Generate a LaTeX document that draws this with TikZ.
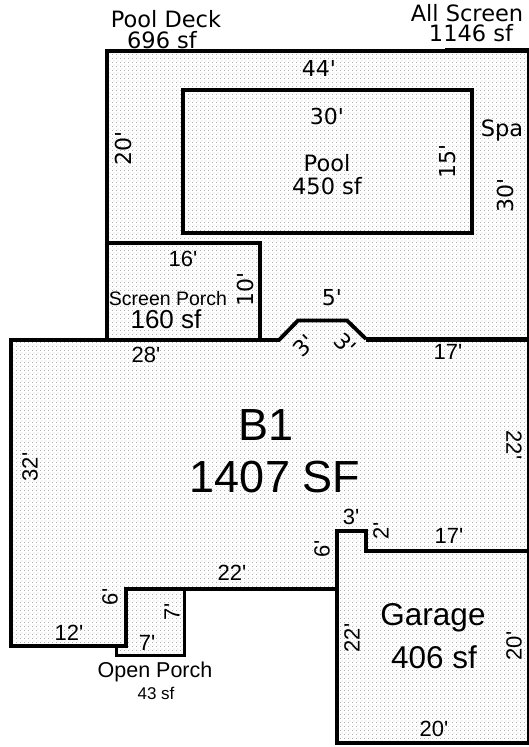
\documentclass[tikz,border=0pt]{standalone}
\usepackage{fontspec}
\setmainfont{Liberation Sans}
\newfontfamily\dvfont{DejaVu Sans}
\newfontfamily\lsfont{Liberation Sans}
\usetikzlibrary{patterns}
\pgfdeclarepatternformonly{fine dots b}{\pgfqpoint{0pt}{0pt}}{\pgfqpoint{4pt}{4pt}}{\pgfqpoint{4pt}{4pt}}{%
  \pgfpathrectangle{\pgfqpoint{0pt}{0pt}}{\pgfqpoint{1pt}{1pt}}\pgfusepath{fill}%
  \pgfpathrectangle{\pgfqpoint{2pt}{2pt}}{\pgfqpoint{1pt}{1pt}}\pgfusepath{fill}}
\definecolor{dotgray}{gray}{0.68}
\tikzset{
  wall/.style={draw=black,line width=3.8pt,line join=miter},
  midwall/.style={draw=black,line width=3.2pt,line join=miter},
  thinwall/.style={draw=black,line width=3pt,line join=miter},
  thickwall/.style={draw=black,line width=5pt},
  edgewall/.style={draw=black,line width=2pt},
  dotted area/.style={pattern=fine dots b,pattern color=dotgray},
  dim/.style={font=\lsfont\fontsize{22}{22}\selectfont,inner sep=0pt},
  dimv/.style={font=\dvfont\fontsize{22}{22}\selectfont,inner sep=0pt},
  lab/.style={inner sep=0pt,align=center},
  dv/.style={lab,font=\dvfont\fontsize{22.5}{22.5}\selectfont},
}
\begin{document}
\begin{tikzpicture}[x=1pt,y=-1pt]
\useasboundingbox (0,0) rectangle (529,747);
% shaded area
\fill[dotted area] (107,51) -- (528,51) -- (528,743) -- (337,743) -- (337,589) -- (184,589) -- (184,655) -- (116,655) -- (116,646) -- (11,646) -- (11,340) -- (107,340) -- cycle;
% outlines
\coordinate (d1) at (107,51);
\coordinate (d2) at (445,51);
\coordinate (d2b) at (529,50.5);
\coordinate (d2c) at (445,50.5);
\coordinate (d4) at (107,340);
\draw[wall] (d4) -- (d1) -- (d2);
\draw[thickwall] (d2c) -- (d2b);
\coordinate (p1) at (183,90);
\coordinate (p2) at (472,233);
\draw[wall] (p1) rectangle (p2);
\coordinate (s1) at (107,243);
\coordinate (s2) at (260,243);
\coordinate (s3) at (260,340);
\draw[wall] (s1) -- (s2) -- (s3);
\coordinate (m0) at (9,340);
\coordinate (m1) at (11,340);
\coordinate (m2) at (279,340);
\coordinate (m3) at (298,320.5);
\coordinate (m4) at (347,320.5);
\coordinate (m5) at (366,339);
\coordinate (m6) at (529,339);
\coordinate (m7) at (529,551);
\coordinate (m8) at (366,551);
\coordinate (m9) at (366,531);
\coordinate (m10) at (337,531);
\coordinate (m11) at (337,589);
\coordinate (m12) at (126,589);
\coordinate (m13) at (126,646);
\coordinate (m14) at (11,646);
\draw[wall] (m0) -- (m2) -- (m3) -- (m4) -- (m5);
\draw[thickwall] (m5) -- (m6);
\draw[midwall] (m7) -- (m8) -- (m9) -- (m10) -- (m11);
\draw[wall] (m11) -- (m12) -- (m13) -- (m14) -- (m1);
\coordinate (o1) at (116,646);
\coordinate (o2) at (116,655);
\coordinate (o3) at (184,655);
\coordinate (o4) at (184,589);
\draw[thinwall] (o1) -- (o2) -- (o3) -- (o4);
\coordinate (g1) at (337,743);
\coordinate (g2) at (529,743);
\coordinate (r1) at (528,50);
\coordinate (r2) at (528,743);
\draw[wall] (m11) -- (g1) -- (g2);
\draw[edgewall] (r1) -- (r2);
% labels
\node[dv] (tdeck) at (166,19) {Pool Deck};
\node[dv] (tdeck2) at (162,40) {696 sf};
\node[dv] (tall) at (467,13) {All Screen};
\node[dv] (tall2) at (471,33) {1146 sf};
\node[dimv] (a44) at (319,68) {44'};
\node[dimv,rotate=90] (a20) at (123,148) {20'};
\node[dimv] (a30) at (327,116) {30'};
\node[dv] (tpool) at (327,163) {Pool};
\node[dv] (tpool2) at (327,186) {450 sf};
\node[dimv,rotate=90] (a15) at (448,161) {15'};
\node[dv] (tspa) at (502,130) {Spa};
\node[dimv,rotate=90] (a30b) at (505,195) {30'};
\node[dim] (a16) at (183,259) {16'};
\node[lab,font=\fontsize{19.5}{19.5}\selectfont] (tsp) at (168,299) {Screen Porch};
\node[lab,font=\fontsize{26}{26}\selectfont] (tsp2) at (166,319) {160 sf};
\node[dimv,rotate=90] (a10) at (245,289) {10'};
\node[dimv] (a5) at (332,298) {5'};
\node[dimv,rotate=45] (a3a) at (304,346) {3'};
\node[dimv,rotate=-45] (a3b) at (345,344) {3'};
\node[dim] (a28) at (146,355) {28'};
\node[dim] (a17) at (448,352) {17'};
\node[lab,font=\fontsize{45}{45}\selectfont] (tb1) at (266,425) {B1};
\node[lab,font=\fontsize{45}{45}\selectfont] (tb12) at (275,477) {1407 SF};
\node[dim,rotate=-90] (a22) at (514,445) {22'};
\node[dim,rotate=90] (a32) at (30,467) {32'};
\node[dim] (a3c) at (351,517) {3'};
\node[dim,rotate=90] (a2) at (381,531) {2'};
\node[dim] (a17b) at (449,536) {17'};
\node[dim,rotate=90] (a6) at (322,549) {6'};
\node[dim] (a22b) at (232,573) {22'};
\node[dim,rotate=90] (a6b) at (110,597) {6'};
\node[dim,rotate=90] (a7) at (172,612) {7'};
\node[dim] (a12) at (69,633) {12'};
\node[dim] (a7b) at (147,643) {7'};
\node[lab,font=\fontsize{21.5}{21.5}\selectfont] (top) at (155,672) {Open Porch};
\node[lab,font=\fontsize{17}{17}\selectfont] (top2) at (156,693) {43 sf};
\node[dim,rotate=90] (a22c) at (352,638) {22'};
\node[lab,font=\fontsize{31.5}{31.5}\selectfont] (tg) at (433,618) {Garage};
\node[lab,font=\fontsize{31.5}{31.5}\selectfont] (tg2) at (434,657) {406 sf};
\node[dim,rotate=90] (a20b) at (514,646) {20'};
\node[dim] (a20c) at (434,729) {20'};
\end{tikzpicture}
\end{document}
